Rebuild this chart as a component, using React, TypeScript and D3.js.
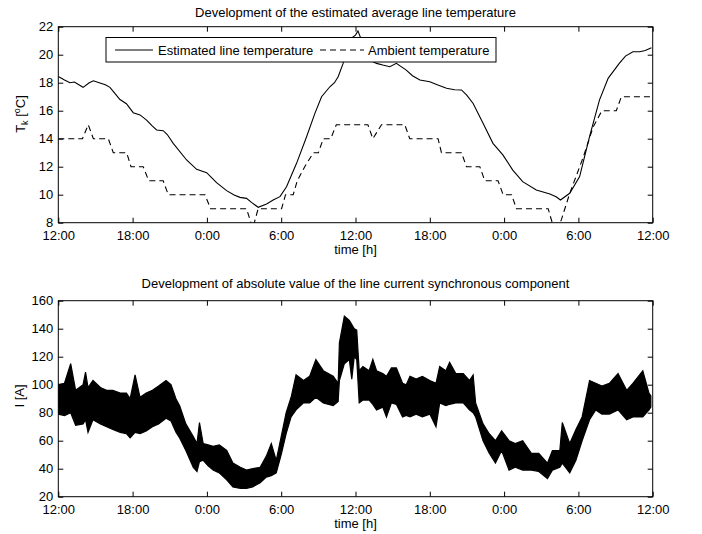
import { useEffect, useRef } from 'react';
import * as d3 from 'd3';

const FONT = '"Liberation Sans", Arial, Helvetica, sans-serif';

// x axis: hours since the first 12:00
const tickHours = [0, 6, 12, 18, 24, 30, 36, 42, 48];
const tickLabels = ['12:00', '18:00', '0:00', '6:00', '12:00', '18:00', '0:00', '6:00', '12:00'];
const tempTicks = [8, 10, 12, 14, 16, 18, 20, 22];
const currentTicks = [20, 40, 60, 80, 100, 120, 140, 160];

// estimated line temperature (solid)
const lineHours = [0, 0.5, 0.94, 1.3, 2.0, 2.5, 2.83, 3.3, 3.8, 4.17, 4.6, 4.98, 5.5, 6.05, 6.6, 7.13, 7.6, 7.94, 8.47, 8.8, 9.28, 10.36, 11.17, 11.98, 12.4, 12.78, 13.59, 14.2, 14.67, 15.2, 15.6, 16.14, 16.82, 17.35, 17.9, 18.43, 19.24, 20.05, 20.72, 21.26, 21.93, 22.3, 22.6, 23.0, 23.3, 23.7, 24.0, 24.2, 24.5, 24.8, 25.2, 25.7, 26.2, 26.77, 27.3, 28.1, 28.6, 29.2, 30.0, 30.6, 31.35, 32.0, 32.56, 33.0, 33.5, 34.3, 35.1, 35.9, 36.7, 37.5, 38.6, 39.7, 40.2, 40.55, 41.3, 42.1, 42.9, 43.7, 44.4, 45.3, 45.8, 46.4, 46.95, 47.4, 47.9];
const lineTemp = [18.45, 18.2, 18.0, 18.05, 17.67, 18.0, 18.14, 18.0, 17.85, 17.67, 17.2, 16.8, 16.5, 15.86, 15.7, 15.33, 14.9, 14.62, 14.57, 14.3, 13.67, 12.48, 11.81, 11.57, 11.2, 10.86, 10.29, 9.98, 9.81, 9.74, 9.45, 9.1, 9.33, 9.62, 9.86, 10.57, 12.24, 14.14, 15.81, 17.0, 17.71, 18.0, 18.43, 19.38, 20.6, 21.2, 21.4, 21.7, 21.0, 20.0, 19.6, 19.38, 19.26, 19.14, 19.38, 18.9, 18.5, 18.19, 18.07, 17.85, 17.6, 17.5, 17.48, 17.1, 16.52, 15.1, 13.67, 12.84, 11.76, 10.93, 10.33, 10.05, 9.85, 9.62, 10.1, 11.29, 14.14, 16.76, 18.31, 19.38, 19.9, 20.21, 20.21, 20.3, 20.5];

// ambient temperature (dashed)
const ambientHours = [0, 1.95, 2.42, 2.83, 4.04, 4.44, 5.52, 5.87, 6.86, 7.3, 8.47, 8.88, 11.84, 12.3, 15.2, 15.7, 16.14, 18.03, 18.35, 18.97, 19.3, 19.9, 20.6, 21.0, 21.4, 22.0, 22.45, 25.0, 25.4, 26.1, 27.98, 28.38, 30.67, 30.94, 32.56, 32.96, 34.04, 34.44, 35.51, 35.92, 36.6, 37.0, 39.56, 39.95, 40.4, 40.62, 41.3, 42.4, 43.2, 43.9, 45.06, 45.47, 47.9];
const ambientTemp = [14, 14, 15, 14, 14, 13, 13, 12, 12, 11, 11, 10, 10, 9, 9, 7.6, 9, 9, 10, 10, 11, 12, 13, 13, 14, 14, 15, 15, 14, 15, 15, 14, 14, 13, 13, 12, 12, 11, 11, 10, 10, 9, 9, 7.8, 7.8, 8.2, 10.1, 12.7, 14.86, 16, 16, 17, 17];

// line current: band (upper / lower envelope)
const currentHours = [0, 0.5, 1.0, 1.4, 2.0, 2.2, 2.4, 2.8, 3.4, 3.9, 4.4, 5.0, 5.5, 5.8, 6.2, 6.6, 7.1, 7.6, 8.1, 8.7, 9.1, 9.5, 9.8, 10.3, 10.9, 11.2, 11.4, 11.7, 12.1, 12.5, 13.0, 13.6, 14.1, 14.7, 15.2, 15.7, 16.3, 16.8, 17.2, 17.6, 18.0, 18.4, 18.8, 19.2, 19.8, 20.3, 20.8, 21.4, 22.2, 22.6, 22.7, 23.1, 23.5, 23.7, 23.9, 24.1, 24.3, 24.6, 25.1, 25.4, 25.7, 26.2, 26.5, 26.9, 27.3, 27.8, 28.1, 28.4, 28.9, 29.4, 30.0, 30.5, 30.8, 31.3, 31.6, 32.1, 32.7, 33.2, 33.5, 33.7, 34.3, 34.8, 35.3, 35.8, 36.4, 36.9, 37.5, 38.2, 38.8, 39.5, 39.9, 40.5, 40.7, 41.3, 41.8, 42.3, 42.9, 43.4, 43.9, 44.5, 45.2, 45.9, 46.4, 47.2, 47.7, 47.85];
const currentUpper = [100, 101, 115, 96, 100, 109, 98, 103, 98, 96, 96, 94, 94, 90, 107, 91, 94, 96, 99, 103, 100, 90, 85, 72, 63, 58, 73, 58, 57, 56, 57, 53, 44, 41, 39, 40, 41, 49, 58, 46, 63, 80, 91, 107, 103, 106, 118, 110, 106, 101, 130, 149, 146, 143, 140, 139, 110, 113, 110, 118, 110, 108, 106, 112, 112, 101, 100, 106, 104, 106, 103, 101, 113, 110, 116, 108, 108, 103, 107, 87, 72, 65, 60, 67, 60, 58, 60, 51, 51, 44, 53, 53, 73, 58, 68, 77, 103, 101, 99, 101, 108, 96, 101, 110, 94, 92];
const currentLower = [79, 78, 80, 71, 72, 75, 66, 75, 72, 70, 68, 66, 65, 62, 66, 65, 67, 70, 72, 76, 74, 66, 62, 53, 41, 38, 45, 46, 42, 39, 37, 32, 27, 26, 26, 27, 30, 34, 35, 37, 50, 65, 77, 82, 87, 87, 91, 87, 85, 88, 103, 115, 118, 104, 120, 118, 87, 89, 89, 86, 82, 84, 77, 87, 86, 77, 78, 77, 79, 77, 79, 70, 87, 85, 86, 87, 87, 82, 80, 77, 60, 51, 44, 53, 39, 41, 39, 39, 38, 33, 39, 41, 44, 37, 46, 60, 75, 82, 79, 79, 82, 75, 77, 77, 82, 84];

export default function App() {
  const svgRef = useRef<SVGSVGElement>(null);

  useEffect(() => {
    if (!svgRef.current) return;
    const svg = d3.select(svgRef.current);
    svg.selectAll('*').remove();

    const left = 58.3;
    const right = 652.7;
    const tickLen = 5;

    const x = d3.scaleLinear().domain([0, 48]).range([left, right]);

    const drawFrame = (
      top: number,
      bottom: number,
      y: d3.ScaleLinear<number, number>,
      yTicks: number[],
      title: string,
      titleY: number,
      clipId: string
    ) => {
      svg.append('defs').append('clipPath').attr('id', clipId)
        .append('rect')
        .attr('x', left).attr('y', top)
        .attr('width', right - left).attr('height', bottom - top);

      const fmt = (d: d3.NumberValue) => tickLabels[tickHours.indexOf(+d)];

      const bottomAxis = svg.append('g')
        .attr('transform', `translate(0,${bottom})`)
        .call(d3.axisBottom(x).tickValues(tickHours).tickFormat(fmt)
          .tickSizeInner(-tickLen).tickSizeOuter(0).tickPadding(8));
      svg.append('g')
        .attr('transform', `translate(0,${top})`)
        .call(d3.axisTop(x).tickValues(tickHours).tickFormat(() => '')
          .tickSizeInner(-tickLen).tickSizeOuter(0));
      const leftAxis = svg.append('g')
        .attr('transform', `translate(${left},0)`)
        .call(d3.axisLeft(y).tickValues(yTicks).tickFormat(d3.format('d'))
          .tickSizeInner(-tickLen).tickSizeOuter(0).tickPadding(5));
      svg.append('g')
        .attr('transform', `translate(${right},0)`)
        .call(d3.axisRight(y).tickValues(yTicks).tickFormat(() => '')
          .tickSizeInner(-tickLen).tickSizeOuter(0));

      svg.selectAll('.domain').remove();
      svg.selectAll('.tick line').attr('stroke', '#000').attr('stroke-width', 1);
      [bottomAxis, leftAxis].forEach(a => a.selectAll('text')
        .attr('font-family', FONT).attr('font-size', 13).attr('fill', '#000'));

      svg.append('text')
        .attr('x', (left + right) / 2)
        .attr('y', bottom + 31.5)
        .attr('text-anchor', 'middle')
        .attr('font-family', FONT).attr('font-size', 13)
        .text('time [h]');

      svg.append('text')
        .attr('x', (left + right) / 2)
        .attr('y', titleY)
        .attr('text-anchor', 'middle')
        .attr('font-family', FONT).attr('font-size', 13)
        .text(title);
    };

    const box = (top: number, bottom: number) => {
      svg.append('rect')
        .attr('x', left).attr('y', top)
        .attr('width', right - left).attr('height', bottom - top)
        .attr('fill', 'none').attr('stroke', '#000').attr('stroke-width', 1);
    };

    // ---- top panel: temperatures
    const top1 = 26.7;
    const bottom1 = 222.7;
    const y1 = d3.scaleLinear().domain([8, 22]).range([bottom1, top1]);
    drawFrame(top1, bottom1, y1, tempTicks, 'Development of the estimated average line temperature', 16.5, 'clip1');

    const line = d3.line<number>()
      .x((_, i) => x(lineHours[i]))
      .y(d => y1(d));
    const ambLine = d3.line<number>()
      .x((_, i) => x(ambientHours[i]))
      .y(d => y1(d));

    const g1 = svg.append('g').attr('clip-path', 'url(#clip1)');
    g1.append('path')
      .attr('d', ambLine(ambientTemp))
      .attr('fill', 'none').attr('stroke', '#000').attr('stroke-width', 1.1)
      .attr('stroke-dasharray', '6,4');
    g1.append('path')
      .attr('d', line(lineTemp))
      .attr('fill', 'none').attr('stroke', '#000').attr('stroke-width', 1.1);
    box(top1, bottom1);

    // legend
    const lg = svg.append('g');
    lg.append('rect')
      .attr('x', 106).attr('y', 37.5).attr('width', 390).attr('height', 24.5)
      .attr('fill', '#fff').attr('stroke', '#000').attr('stroke-width', 1);
    lg.append('line')
      .attr('x1', 115).attr('x2', 153).attr('y1', 50).attr('y2', 50)
      .attr('stroke', '#000').attr('stroke-width', 1.1);
    lg.append('text')
      .attr('x', 158).attr('y', 54.5)
      .attr('font-family', FONT).attr('font-size', 13)
      .text('Estimated line temperature');
    lg.append('line')
      .attr('x1', 320).attr('x2', 364).attr('y1', 50).attr('y2', 50)
      .attr('stroke', '#000').attr('stroke-width', 1.1).attr('stroke-dasharray', '6,4');
    lg.append('text')
      .attr('x', 368).attr('y', 54.5)
      .attr('font-family', FONT).attr('font-size', 13)
      .text('Ambient temperature');

    // y label T_k [°C]
    const tl = svg.append('text')
      .attr('transform', 'translate(25,114) rotate(-90)')
      .attr('text-anchor', 'middle')
      .attr('font-family', FONT).attr('font-size', 13);
    tl.append('tspan').text('T');
    tl.append('tspan').attr('font-size', 9).attr('dy', 3).text('k');
    tl.append('tspan').attr('dy', -3).text(' [');
    tl.append('tspan').attr('font-size', 9).attr('dy', -5).text('o');
    tl.append('tspan').attr('dy', 5).text('C]');

    // ---- bottom panel: current
    const top2 = 300.7;
    const bottom2 = 496.7;
    const y2 = d3.scaleLinear().domain([20, 160]).range([bottom2, top2]);
    drawFrame(top2, bottom2, y2, currentTicks, 'Development of absolute value of the line current synchronous component', 288, 'clip2');

    const band = d3.area<number>()
      .x(d => x(d))
      .y0((_, i) => y2(currentLower[i]))
      .y1((_, i) => y2(currentUpper[i]));
    svg.append('g').attr('clip-path', 'url(#clip2)')
      .append('path')
      .attr('d', band(currentHours))
      .attr('fill', '#000').attr('stroke', '#000').attr('stroke-width', 1.2)
      .attr('stroke-linejoin', 'miter');
    box(top2, bottom2);

    svg.append('text')
      .attr('transform', 'translate(24,396) rotate(-90)')
      .attr('text-anchor', 'middle')
      .attr('font-family', FONT).attr('font-size', 13)
      .text('I [A]');
  }, []);

  return (
    <svg
      ref={svgRef}
      width={702}
      height={534}
      style={{ position: 'absolute', left: 0, top: 0, background: '#fff' }}
    />
  );
}
